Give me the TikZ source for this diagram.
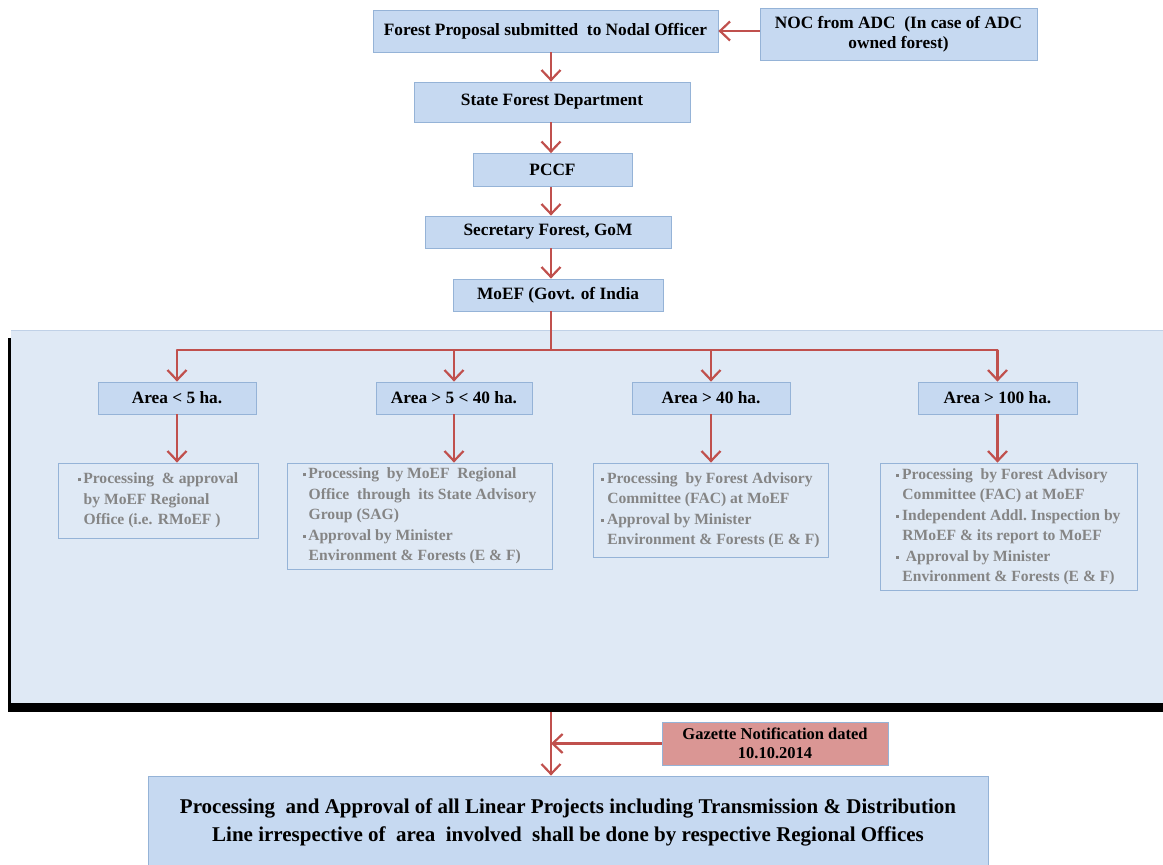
\documentclass[tikz,border=0pt]{standalone}
\usepackage{fontspec}
\setmainfont{Liberation Serif}
\usepackage{tikz}
\usetikzlibrary{arrows.meta}

\definecolor{boxblue}{HTML}{C6D9F1}
\definecolor{boxedge}{HTML}{95B3D7}
\definecolor{panelblue}{HTML}{DFE9F5}
\definecolor{arrowred}{HTML}{C0504D}
\definecolor{gazred}{HTML}{DA9694}
\definecolor{bulgray}{HTML}{858585}

\newcommand{\bul}{\raisebox{2.5pt}{\rule{3pt}{3pt}}\,}
\newcommand{\ind}{\hspace*{6pt}}

\tikzset{
  stagebox/.style={draw=boxedge, fill=boxblue, line width=0.8pt, inner sep=2pt,
    font=\fontsize{17.3}{20}\selectfont\bfseries, align=center},
  notebox/.style={draw=boxedge, line width=0.8pt, inner sep=2pt, align=left,
    text=bulgray, font=\fontsize{15.6}{20.5}\selectfont\bfseries},
  redline/.style={draw=arrowred, line width=2.2pt},
  redarrow/.style={redline, -{Straight Barb[length=10pt,width=19pt,line width=2.2pt]}}
}

\begin{document}
\begin{tikzpicture}[x=1pt, y=-1pt]
  \useasboundingbox (0,0) rectangle (1163,865);
  \coordinate (spine) at (551,0);
  \coordinate (bus) at (0,350);

  \fill[black] (8,338) rectangle (1163,712);
  \fill[panelblue] (11,330) rectangle (1163,703);
  \draw[boxedge!60, line width=0.6pt] (11,330) -- (1163,330);

  \node[stagebox, minimum width=345, minimum height=42] (prop) at (545.5,31) {Forest Proposal submitted\ \ to Nodal Officer};
  \node[stagebox, minimum width=277, minimum height=52] (noc) at (898.5,34) {NOC from ADC\ \ (In case of ADC\\ owned forest)};
  \node[stagebox, minimum width=276, minimum height=40] (sfd) at (552,102) {State Forest Department};
  \node[stagebox, minimum width=159, minimum height=33] (pccf) at (552.5,170) {PCCF};
  \node[stagebox, minimum width=246, minimum height=32] (sec) at (548,232) {Secretary Forest, GoM};
  \node[stagebox, minimum width=210, minimum height=32] (moef) at (558,295) {MoEF (Govt. of India};

  \node[stagebox, minimum width=158, minimum height=32] (a1) at (177,398) {Area < 5 ha.};
  \node[stagebox, minimum width=156, minimum height=32] (a2) at (454,398) {Area > 5 < 40 ha.};
  \node[stagebox, minimum width=158, minimum height=32] (a3) at (711,398) {Area > 40 ha.};
  \node[stagebox, minimum width=159, minimum height=32] (a4) at (997.5,398) {Area > 100 ha.};

  \node[notebox, minimum width=200, minimum height=75] (b1) at (158,500.5)
    {\bul Processing\ \ \& approval\\ \ind by MoEF Regional\\ \ind Office (i.e. RMoEF )};
  \node[notebox, minimum width=265, minimum height=106] (b2) at (419.5,516)
    {\bul Processing\ \ by MoEF\ \ Regional\\ \ind Office\ \ through\ \ its State Advisory\\ \ind Group (SAG)\\ \bul Approval by Minister\\ \ind Environment \& Forests (E \& F)};
  \node[notebox, minimum width=235, minimum height=94] (b3) at (710.5,510)
    {\bul Processing\ \ by Forest Advisory\\ \ind Committee (FAC) at MoEF\\ \bul Approval by Minister\\ \ind Environment \& Forests (E \& F)};
  \node[notebox, minimum width=257, minimum height=127] (b4) at (1008.5,526.5)
    {\bul Processing\ \ by Forest Advisory\\ \ind Committee (FAC) at MoEF\\ \bul Independent Addl.\ Inspection by\\ \ind RMoEF \& its report to MoEF\\ \bul\ Approval by Minister\\ \ind Environment \& Forests (E \& F)};

  \node[stagebox, fill=gazred, minimum width=226, minimum height=43, font=\fontsize{16.5}{19}\selectfont\bfseries] (gaz) at (775,743.5) {Gazette Notification dated\\ 10.10.2014};
  \node[stagebox, minimum width=840, minimum height=92, font=\fontsize{21}{28}\selectfont\bfseries] (final) at (568,822)
    {Processing\ \ and Approval of all Linear Projects including Transmission \& Distribution\\ Line irrespective of\ \ area\ \ involved\ \ shall be done by respective Regional Offices};

  \draw[redarrow] (noc.west |- prop.east) -- (prop.east);
  \draw[redarrow] (prop.south -| spine) -- (sfd.north -| spine);
  \draw[redarrow] (sfd.south -| spine) -- (pccf.north -| spine);
  \draw[redarrow] (pccf.south -| spine) -- (sec.north -| spine);
  \draw[redarrow] (sec.south -| spine) -- (moef.north -| spine);
  \draw[redline] (moef.south -| spine) -- (spine |- bus);
  \draw[redline, line cap=round] (a1.north |- bus) -- (a4.north |- bus);
  \foreach \n in {a1,a2,a3,a4} {
    \draw[redarrow] (\n.north |- bus) -- (\n.north);
  }
  \draw[redarrow] (a1.south) -- (a1.south |- b1.north);
  \draw[redarrow] (a2.south) -- (a2.south |- b2.north);
  \draw[redarrow] (a3.south) -- (a3.south |- b3.north);
  \draw[redarrow] (a4.south) -- (a4.south |- b4.north);

  \draw[redarrow] (spine |- 0,712) -- (spine |- final.north);
  \draw[redarrow] (gaz.west) -- (gaz.west -| spine);
\end{tikzpicture}
\end{document}
